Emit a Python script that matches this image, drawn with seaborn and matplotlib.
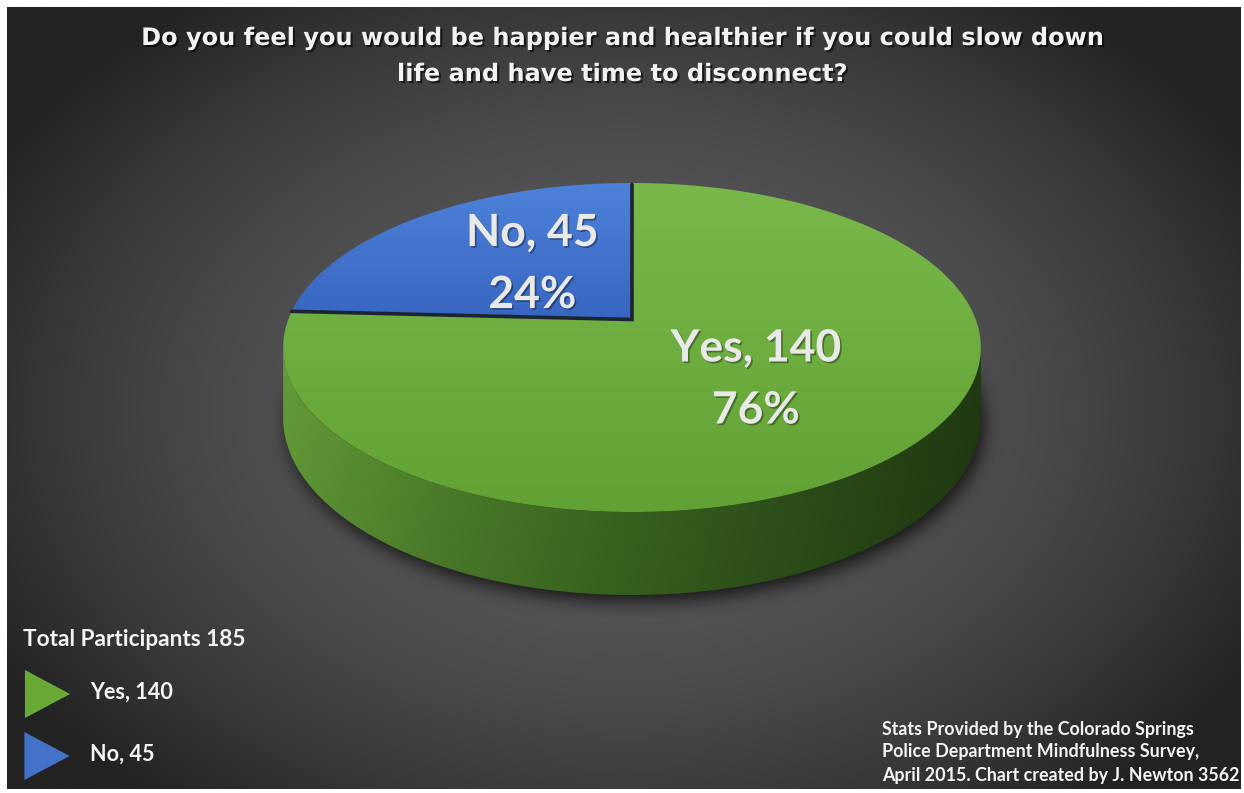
import numpy as np
import matplotlib
matplotlib.use("Agg")
import matplotlib.pyplot as plt
import matplotlib.patheffects as pe
from matplotlib.patches import Polygon
from matplotlib.path import Path
import seaborn as sns

# ---- survey data ----
answers = ["Yes", "No"]
counts = [140, 45]
top_colors = {"Yes": ((122, 184, 76), (98, 162, 52)),
              "No": ((78, 130, 218), (56, 102, 192))}
marker_colors = ["#69aa37", "#4472c8"]
title_lines = ["Do you feel you would be happier and healthier if you could slow down",
               "life and have time to disconnect?"]
legend_title = "Total Participants 185"
source_lines = ["Stats Provided by the Colorado Springs",
                "Police Department Mindfulness Survey,",
                "April 2015. Chart created by J. Newton 3562"]

sns.set_theme(style="white")
plt.rcParams["font.family"] = ["Lato", "DejaVu Sans"]

W, H = 1244, 793
fig = plt.figure(figsize=(W / 100, H / 100), dpi=100)
fig.patch.set_facecolor("white")
ax = fig.add_axes([0, 0, 1, 1])


def rgb(c):
    return np.array(c, dtype=float) / 255.0


# ---- dark radial background ----
bx0, bx1, by0, by1 = 7, 1241, 7, 789
gx = np.linspace(bx0, bx1, 620)
gy = np.linspace(by0, by1, 400)
GX, GY = np.meshgrid(gx, gy)
r2 = ((GX - 625) / 760) ** 2 + ((GY - 410) / 540) ** 2
lev = np.clip(92 - 64 * r2, 34, 100) / 255.0
bg = np.dstack([lev, lev, lev * 1.02])
ax.imshow(bg, extent=(bx0, bx1, by1, by0), origin="upper", zorder=0,
          interpolation="bilinear")

# ---- perspective model of the pie disc ----
CX, D, K, YH = 632.0, 5.58, 1915.0, -570.5
H_TOP, H_BOT = 4958.0, 5338.0


def project(t, hp):
    u, v = np.cos(t), np.sin(t)
    return CX + K * u / (D + v), YH + hp / (D + v)


def project_uv(u, v, hp):
    return CX + K * u / (D + v), YH + hp / (D + v)


total = float(sum(counts))
fracs = [c / total for c in counts]
slices = []
start = np.pi / 2
for name, f in zip(answers, fracs):
    end = start - 2 * np.pi * f
    slices.append((name, start, end, f))
    start = end

# soft shadow under the disc
tt = np.linspace(0, 2 * np.pi, 400)
sx, sy = project(tt, H_BOT)
sh_path = Path(np.column_stack([sx + 4, sy + 7]))
shx = np.arange(200, 1070)
shy = np.arange(140, 680)
SX, SY = np.meshgrid(shx, shy)
mask = sh_path.contains_points(np.column_stack([SX.ravel(), SY.ravel()])).reshape(SX.shape).astype(float)
sig = 9.0
kr = np.arange(-30, 31)
kern = np.exp(-kr ** 2 / (2 * sig ** 2))
kern /= kern.sum()
blur = np.apply_along_axis(lambda m: np.convolve(m, kern, mode="same"), 1, mask)
blur = np.apply_along_axis(lambda m: np.convolve(m, kern, mode="same"), 0, blur)
shadow = np.zeros(blur.shape + (4,))
shadow[..., 3] = 0.75 * blur
ax.imshow(shadow, extent=(shx[0], shx[-1], shy[-1], shy[0]), origin="upper",
          zorder=1, interpolation="bilinear")

# visible front band of the cylinder
a = np.arcsin(1.0 / D)
vis_lo, vis_hi = -np.pi + a, -a
side_anchor_f = [0.0, 0.25, 0.5, 0.75, 1.0]
side_anchor_c = [(100, 156, 56), (76, 126, 42), (58, 101, 32), (45, 79, 25), (33, 58, 18)]
for name, t0, t1, f in slices:
    lo, hi = max(t1, vis_lo), min(t0, vis_hi)
    if lo >= hi:
        continue
    ts = np.linspace(lo, hi, 300)
    xt, yt = project(ts, H_TOP)
    xb, yb = project(ts[::-1], H_BOT)
    verts = np.column_stack([np.r_[xt, xb], np.r_[yt, yb]])
    patch = Polygon(verts, closed=True, facecolor="none", edgecolor="none", zorder=2)
    ax.add_patch(patch)
    x_min, x_max = verts[:, 0].min(), verts[:, 0].max()
    y_min, y_max = verts[:, 1].min(), verts[:, 1].max()
    fx = np.linspace(0, 1, 400)
    cols = np.column_stack([np.interp(fx, side_anchor_f, [c[i] for c in side_anchor_c]) for i in range(3)]) / 255.0
    fy = np.linspace(0, 1, 60)[:, None]
    img = cols[None, :, :] * (1.0 - 0.08 * fy[..., None])
    im = ax.imshow(img, extent=(x_min, x_max, y_max, y_min), origin="upper",
                   zorder=2, interpolation="bilinear")
    im.set_clip_path(patch)

# top faces of the slices
for name, t0, t1, f in slices:
    ts = np.linspace(t0, t1, 300)
    xt, yt = project(ts, H_TOP)
    cx0, cy0 = project_uv(0.0, 0.0, H_TOP)
    verts = np.column_stack([np.r_[cx0, xt], np.r_[cy0, yt]])
    patch = Polygon(verts, closed=True, facecolor="none", edgecolor="none", zorder=3)
    ax.add_patch(patch)
    x_min, x_max = verts[:, 0].min(), verts[:, 0].max()
    y_min, y_max = verts[:, 1].min(), verts[:, 1].max()
    c_top, c_bot = (rgb(c) for c in top_colors[name])
    fy = np.linspace(0, 1, 200)[:, None]
    img = (c_top[None, :] * (1 - fy) + c_bot[None, :] * fy)[:, None, :].repeat(2, axis=1)
    im = ax.imshow(img, extent=(x_min, x_max, y_max, y_min), origin="upper",
                   zorder=3, interpolation="bilinear")
    im.set_clip_path(patch)
    if name == "No":
        ex, ey = project(np.array([t1]), H_TOP)
        sx0, sy0 = project(np.array([t0]), H_TOP)
        ax.plot([ex[0], cx0, sx0[0]], [ey[0] + 1.5, cy0 + 1.5, sy0[0]],
                color="#1c2433", lw=2.6, zorder=4, solid_joinstyle="miter")

# value labels on the slices
lab_fx = [pe.withSimplePatchShadow(offset=(1.2, -1.2), shadow_rgbFace="black", alpha=0.35)]
label_nudge = {"Yes": -3, "No": 12}
for (name, t0, t1, f), c in zip(slices, counts):
    tm = 0.5 * (t0 + t1)
    lx, ly = project_uv(0.5 * np.cos(tm), 0.5 * np.sin(tm), H_TOP)
    lx += label_nudge[name]
    ax.text(lx, ly - 31, f"{name}, {c}", ha="center", va="center", fontsize=32,
            fontweight="bold", color="#e9e9e9", zorder=6, path_effects=lab_fx)
    ax.text(lx, ly + 31, f"{f:.0%}", ha="center", va="center", fontsize=32,
            fontweight="bold", color="#e9e9e9", zorder=6, path_effects=lab_fx)

# title
title_fx = [pe.withSimplePatchShadow(offset=(1.5, -1.5), shadow_rgbFace="black", alpha=0.6)]
for i, line in enumerate(title_lines):
    ax.text(622, 38 + 36 * i, line, ha="center", va="center", fontsize=17.3,
            fontweight="bold", color="#f2f2f2", family="DejaVu Sans",
            zorder=6, path_effects=title_fx)

# legend
ax.text(23, 640, legend_title, ha="left", va="center", fontsize=16.3,
        fontweight="bold", color="#f4f4f4", zorder=6)
tri = [(-0.47, -0.5), (0.47, 0.0), (-0.47, 0.5), (-0.47, -0.5)]
leg = {"answer": answers, "x": [47.5, 47.0], "y": [694, 756]}
sns.scatterplot(data=leg, x="x", y="y", hue="answer", palette=marker_colors,
                marker=tri, s=1196, linewidth=0, legend=False, ax=ax, zorder=6)
for ans, c, yy in zip(answers, counts, leg["y"]):
    ax.text(90, yy - 2, f"{ans}, {c}", ha="left", va="center", fontsize=15.6,
            fontweight="bold", color="#f4f4f4", zorder=6)

# source note
for i, line in enumerate(source_lines):
    ax.text(882, 729 + 23 * i, line, ha="left", va="center", fontsize=12.9,
            fontweight="bold", color="#f4f4f4", zorder=6)

ax.set_xlim(0, W)
ax.set_ylim(H, 0)
ax.set_aspect("auto")
ax.axis("off")
fig.savefig("out.png", dpi=100, facecolor="white")
